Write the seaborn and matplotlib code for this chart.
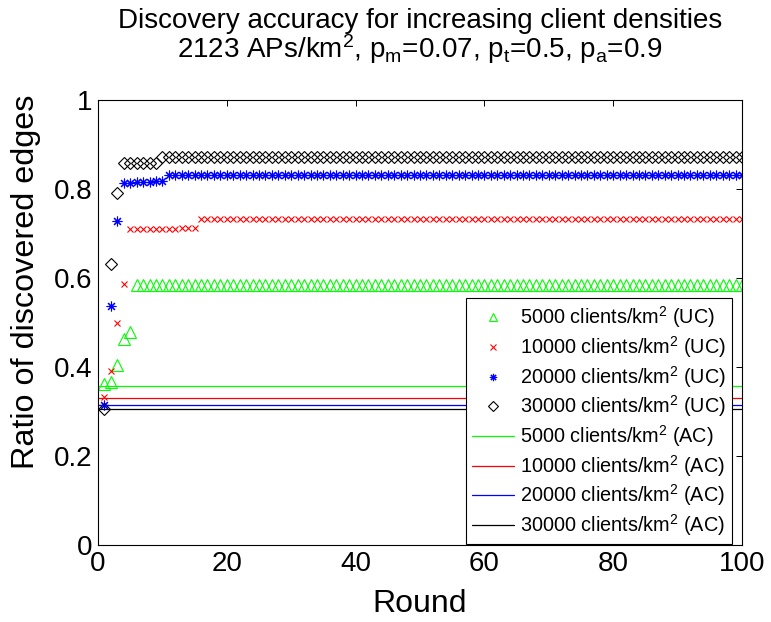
import matplotlib
matplotlib.use("Agg")
import matplotlib.pyplot as plt
import seaborn as sns
import pandas as pd

# ---- data ----
rounds = list(range(1, 101))
uc_5000 = [0.361, 0.366, 0.404, 0.463, 0.479] + [0.585] * 95
uc_10000 = [0.332, 0.392, 0.499, 0.587] + [0.709, 0.709, 0.710, 0.710, 0.710, 0.711, 0.711, 0.711, 0.712, 0.712, 0.712] + [0.733] * 85
uc_20000 = [0.315, 0.536, 0.727] + [0.813, 0.814, 0.815, 0.815, 0.816, 0.817, 0.818] + [0.831] * 90
uc_30000 = [0.305, 0.632, 0.790] + [0.858] * 6 + [0.873] * 91
ac_x = [0, 100]
ac_values = [0.357, 0.331, 0.315, 0.306]
densities = ["5000", "10000", "20000", "30000"]
x_ticks = [0, 20, 40, 60, 80, 100]
y_ticks = [0, 0.2, 0.4, 0.6, 0.8, 1.0]
y_ticklabels = ["0", "0.2", "0.4", "0.6", "0.8", "1"]

sns.set_style("white")
plt.rcParams["font.family"] = ["Liberation Sans", "DejaVu Sans"]
plt.rcParams["mathtext.fontset"] = "custom"
plt.rcParams["mathtext.rm"] = "Liberation Sans"
plt.rcParams["mathtext.it"] = "Liberation Sans"
plt.rcParams["mathtext.default"] = "regular"
for key in ["text.color", "axes.labelcolor", "xtick.color", "ytick.color", "axes.edgecolor"]:
    plt.rcParams[key] = "black"

fig = plt.figure(figsize=(7.71, 6.22), dpi=100)
ax = fig.add_axes([98 / 771, 1 - 545 / 622, (742 - 98) / 771, (545 - 100) / 622])

colors = ["#00ff00", "#ff0000", "#0000ff", "#000000"]
uc_series = [uc_5000, uc_10000, uc_20000, uc_30000]
marker_specs = [
    dict(marker="^", markersize=8.5, markerfacecolor="none", markeredgewidth=0.8),
    dict(marker="x", markersize=5, markeredgewidth=0.8),
    dict(marker=(8, 2, 0), markersize=7, markeredgewidth=0.8),
    dict(marker="D", markersize=6.5, markerfacecolor="none", markeredgewidth=0.8),
]

handles = []
labels = []
for dens, vals, col, ms in zip(densities, uc_series, colors, marker_specs):
    df = pd.DataFrame({"Round": rounds, "ratio": vals})
    sns.lineplot(data=df, x="Round", y="ratio", ax=ax, color=col, linestyle="none",
                 markeredgecolor=col, **ms)
    handles.append(ax.lines[-1])
    labels.append(dens + " clients/km$^2$ (UC)")

for dens, v, col in zip(densities, ac_values, colors):
    df = pd.DataFrame({"Round": ac_x, "ratio": [v, v]})
    sns.lineplot(data=df, x="Round", y="ratio", ax=ax, color=col, linewidth=0.9)
    handles.append(ax.lines[-1])
    labels.append(dens + " clients/km$^2$ (AC)")

ax.set_xlim(0, 100)
ax.set_ylim(0, 1)
ax.set_xticks(x_ticks)
ax.set_xticklabels([str(t) for t in x_ticks])
ax.set_yticks(y_ticks)
ax.set_yticklabels(y_ticklabels)
ax.tick_params(direction="in", top=True, right=True, length=4.5, width=0.7,
               labelsize=20, pad=4, colors="black")
for s in ax.spines.values():
    s.set_color("black")
    s.set_linewidth(0.8)

ax.set_xlabel("Round", fontsize=23)
ax.xaxis.set_label_coords(0.5, -0.098)
ax.set_ylabel("Ratio of discovered edges", fontsize=23.3)
ax.yaxis.set_label_coords(-0.088, 0.591)
ax.set_title("Discovery accuracy for increasing client densities\n"
             "2123 APs/km$^2$, p$_m$=0.07, p$_t$=0.5, p$_a$=0.9",
             fontsize=20, pad=30, linespacing=0.95)

leg = ax.legend(handles, labels, loc="lower right", bbox_to_anchor=(0.986, 0.0),
                fontsize=14.3, frameon=True, fancybox=False, shadow=False,
                framealpha=1, edgecolor="black", borderpad=0.3,
                labelspacing=0.19, handlelength=2.1, handletextpad=0.3,
                borderaxespad=0.05, numpoints=1, markerscale=0.75)
leg.get_frame().set_linewidth(0.8)

fig.savefig("out.png", dpi=100)
